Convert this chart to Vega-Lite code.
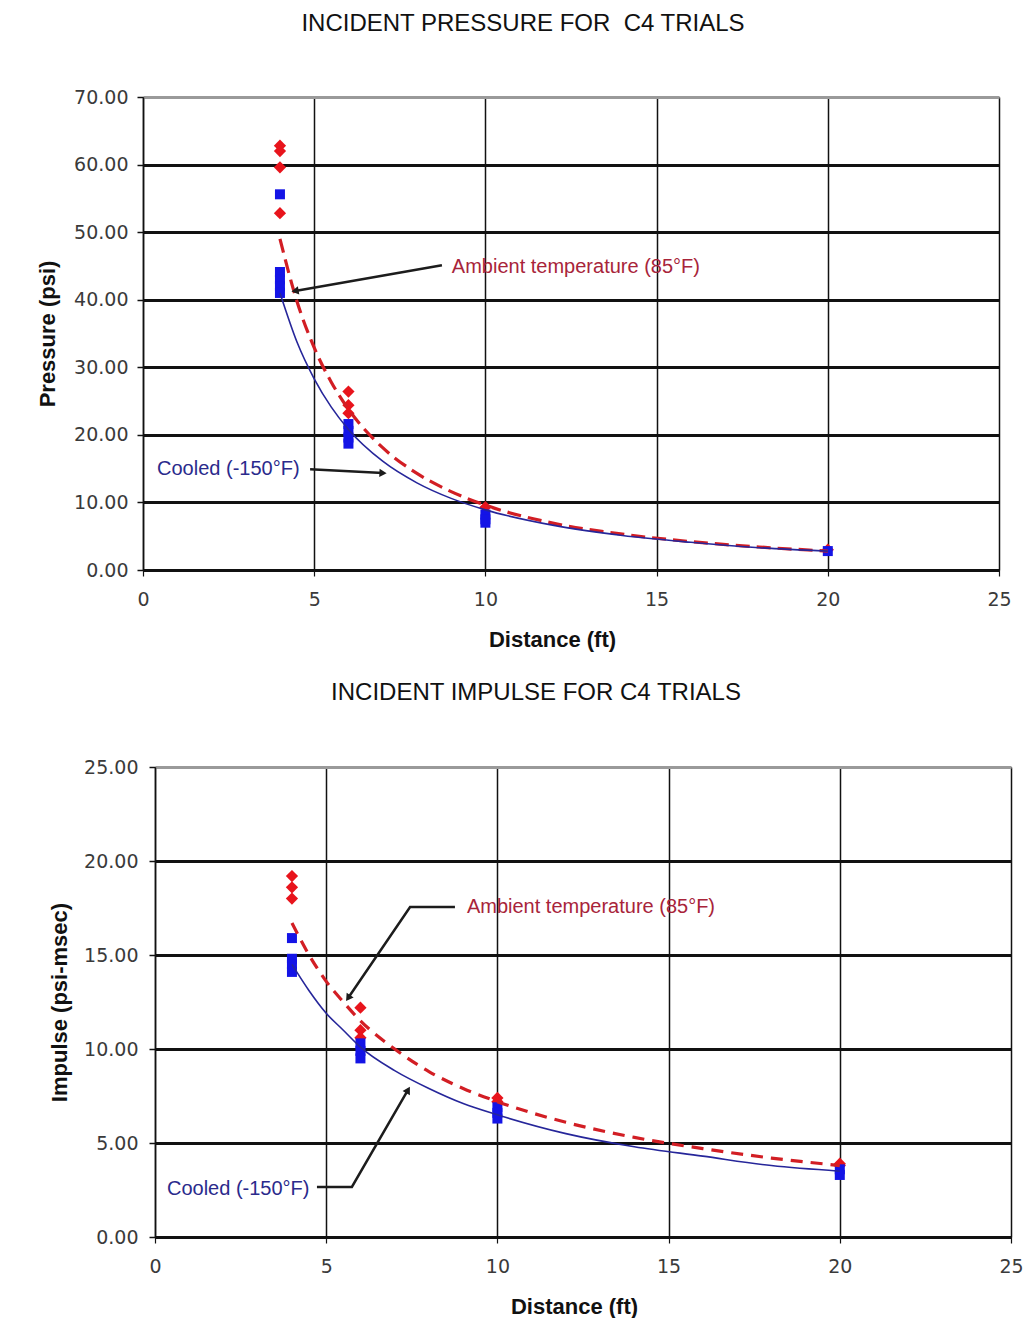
{
  "$schema": "https://vega.github.io/schema/vega-lite/v6.json",
  "background": "white",
  "padding": {"left": 32, "top": 11, "right": 0, "bottom": 0},
  "datasets": {
    "p_pts": [
      {"series": "Ambient", "d": 4, "v": 62.8}, {"series": "Ambient", "d": 4, "v": 62.0}, {"series": "Ambient", "d": 4, "v": 59.6}, {"series": "Ambient", "d": 4, "v": 52.8},
      {"series": "Ambient", "d": 6, "v": 26.4}, {"series": "Ambient", "d": 6, "v": 24.4}, {"series": "Ambient", "d": 6, "v": 23.2},
      {"series": "Ambient", "d": 10, "v": 9.3}, {"series": "Ambient", "d": 20, "v": 3.0},
      {"series": "Cooled", "d": 4, "v": 55.6}, {"series": "Cooled", "d": 4, "v": 44.1}, {"series": "Cooled", "d": 4, "v": 43.0}, {"series": "Cooled", "d": 4, "v": 42.0}, {"series": "Cooled", "d": 4, "v": 41.0},
      {"series": "Cooled", "d": 6, "v": 21.6}, {"series": "Cooled", "d": 6, "v": 20.6}, {"series": "Cooled", "d": 6, "v": 19.6}, {"series": "Cooled", "d": 6, "v": 18.7},
      {"series": "Cooled", "d": 10, "v": 8.2}, {"series": "Cooled", "d": 10, "v": 7.5}, {"series": "Cooled", "d": 10, "v": 7.0},
      {"series": "Cooled", "d": 20, "v": 2.8}
    ],
    "p_fit": [
      {"series": "Ambient", "d": 4, "v": 49.0}, {"series": "Ambient", "d": 4.5, "v": 39.7}, {"series": "Ambient", "d": 5, "v": 32.9}, {"series": "Ambient", "d": 5.5, "v": 27.8},
      {"series": "Ambient", "d": 6, "v": 23.8}, {"series": "Ambient", "d": 7, "v": 18.1}, {"series": "Ambient", "d": 8, "v": 14.3}, {"series": "Ambient", "d": 9, "v": 11.6},
      {"series": "Ambient", "d": 10, "v": 9.6}, {"series": "Ambient", "d": 12, "v": 6.9}, {"series": "Ambient", "d": 14, "v": 5.3}, {"series": "Ambient", "d": 16, "v": 4.2},
      {"series": "Ambient", "d": 18, "v": 3.4}, {"series": "Ambient", "d": 20, "v": 2.8},
      {"series": "Cooled", "d": 4, "v": 41.0}, {"series": "Cooled", "d": 4.5, "v": 33.7}, {"series": "Cooled", "d": 5, "v": 28.3}, {"series": "Cooled", "d": 5.5, "v": 24.1},
      {"series": "Cooled", "d": 6, "v": 20.8}, {"series": "Cooled", "d": 7, "v": 16.1}, {"series": "Cooled", "d": 8, "v": 12.9}, {"series": "Cooled", "d": 9, "v": 10.6},
      {"series": "Cooled", "d": 10, "v": 8.9}, {"series": "Cooled", "d": 12, "v": 6.6}, {"series": "Cooled", "d": 14, "v": 5.1}, {"series": "Cooled", "d": 16, "v": 4.1},
      {"series": "Cooled", "d": 18, "v": 3.3}, {"series": "Cooled", "d": 20, "v": 2.8}
    ],
    "p_notes": [
      {"series": "Ambient", "d": 9.02, "v": 44.8, "label": "Ambient temperature (85°F)"},
      {"series": "Cooled", "d": 0.41, "v": 14.9, "label": "Cooled (-150°F)"}
    ],
    "p_arrows": [
      {"arrow": "ambient", "seq": 0, "d": 8.73, "v": 45.1}, {"arrow": "ambient", "seq": 1, "d": 4.44, "v": 41.3},
      {"arrow": "cooled", "seq": 0, "d": 4.88, "v": 14.9}, {"arrow": "cooled", "seq": 1, "d": 7.01, "v": 14.35}
    ],
    "i_pts": [
      {"series": "Ambient", "d": 4, "v": 19.2}, {"series": "Ambient", "d": 4, "v": 18.6}, {"series": "Ambient", "d": 4, "v": 18.0},
      {"series": "Ambient", "d": 6, "v": 12.2}, {"series": "Ambient", "d": 6, "v": 11.0}, {"series": "Ambient", "d": 6, "v": 10.6},
      {"series": "Ambient", "d": 10, "v": 7.4}, {"series": "Ambient", "d": 10, "v": 7.2},
      {"series": "Ambient", "d": 20, "v": 3.9}, {"series": "Ambient", "d": 20, "v": 3.8},
      {"series": "Cooled", "d": 4, "v": 15.9}, {"series": "Cooled", "d": 4, "v": 14.8}, {"series": "Cooled", "d": 4, "v": 14.5}, {"series": "Cooled", "d": 4, "v": 14.1},
      {"series": "Cooled", "d": 6, "v": 10.3}, {"series": "Cooled", "d": 6, "v": 9.9}, {"series": "Cooled", "d": 6, "v": 9.5},
      {"series": "Cooled", "d": 10, "v": 6.9}, {"series": "Cooled", "d": 10, "v": 6.6}, {"series": "Cooled", "d": 10, "v": 6.3},
      {"series": "Cooled", "d": 20, "v": 3.6}, {"series": "Cooled", "d": 20, "v": 3.3}
    ],
    "i_fit": [
      {"series": "Ambient", "d": 4, "v": 16.7}, {"series": "Ambient", "d": 4.5, "v": 15.0}, {"series": "Ambient", "d": 5, "v": 13.6}, {"series": "Ambient", "d": 5.5, "v": 12.5},
      {"series": "Ambient", "d": 6, "v": 11.5}, {"series": "Ambient", "d": 7, "v": 10.0}, {"series": "Ambient", "d": 8, "v": 8.8}, {"series": "Ambient", "d": 9, "v": 7.9},
      {"series": "Ambient", "d": 10, "v": 7.2}, {"series": "Ambient", "d": 12, "v": 6.1}, {"series": "Ambient", "d": 14, "v": 5.3}, {"series": "Ambient", "d": 16, "v": 4.7},
      {"series": "Ambient", "d": 18, "v": 4.2}, {"series": "Ambient", "d": 20, "v": 3.8},
      {"series": "Cooled", "d": 4, "v": 14.5}, {"series": "Cooled", "d": 4.5, "v": 13.1}, {"series": "Cooled", "d": 5, "v": 11.9}, {"series": "Cooled", "d": 5.5, "v": 11.0},
      {"series": "Cooled", "d": 6, "v": 10.1}, {"series": "Cooled", "d": 7, "v": 8.85}, {"series": "Cooled", "d": 8, "v": 7.9}, {"series": "Cooled", "d": 9, "v": 7.1},
      {"series": "Cooled", "d": 10, "v": 6.5}, {"series": "Cooled", "d": 12, "v": 5.5}, {"series": "Cooled", "d": 14, "v": 4.8}, {"series": "Cooled", "d": 16, "v": 4.3},
      {"series": "Cooled", "d": 18, "v": 3.8}, {"series": "Cooled", "d": 20, "v": 3.5}
    ],
    "i_notes": [
      {"series": "Ambient", "d": 9.11, "v": 17.53, "label": "Ambient temperature (85°F)"},
      {"series": "Cooled", "d": 0.35, "v": 2.55, "label": "Cooled (-150°F)"}
    ],
    "i_arrows": [
      {"arrow": "ambient", "seq": 0, "d": 8.76, "v": 17.55}, {"arrow": "ambient", "seq": 1, "d": 7.45, "v": 17.55}, {"arrow": "ambient", "seq": 2, "d": 5.64, "v": 12.71},
      {"arrow": "cooled", "seq": 0, "d": 4.73, "v": 2.66}, {"arrow": "cooled", "seq": 1, "d": 5.75, "v": 2.66}, {"arrow": "cooled", "seq": 2, "d": 7.39, "v": 7.82}
    ]
  },
  "vconcat": [
    {
      "spacing": 0,
      "hconcat": [
        {
          "width": 4,
          "height": 473,
          "view": {"stroke": null},
          "data": {"values": []},
          "mark": {"type": "text"},
          "encoding": {}
        },
        {
          "width": 856,
          "height": 473,
          "title": {"text": "INCIDENT PRESSURE FOR \u00a0C4 TRIALS", "offset": 52, "dx": -48},
          "layer": [
            {
              "data": {"name": "p_pts"},
              "transform": [{"filter": "datum.series == 'Ambient'"}],
              "mark": {"type": "point", "shape": "diamond", "filled": true, "size": 150, "color": "#e8141c", "opacity": 1},
              "encoding": {
                "x": {"field": "d", "type": "quantitative", "scale": {"domain": [0, 25], "nice": false},
                  "axis": {"title": "Distance (ft)", "values": [0, 5, 10, 15, 20, 25], "format": "d", "labelFlush": false, "labelPadding": 14, "titlePadding": 20, "domainWidth": 3, "gridWidth": 1.5, "tickWidth": 1.2, "titleX": 409}},
                "y": {"field": "v", "type": "quantitative", "scale": {"domain": [0, 70], "nice": false},
                  "axis": {"title": "Pressure (psi)", "values": [0, 10, 20, 30, 40, 50, 60, 70], "format": ".2f", "labelPadding": 9, "titlePadding": 14, "domainWidth": 1.5, "gridWidth": 3, "tickWidth": 1.5,
                    "gridColor": {"condition": {"test": "datum.value >= 70", "value": "#9a9a9a"}, "value": "#111111"}}}
              }
            },
            {
              "data": {"name": "p_pts"},
              "transform": [{"filter": "datum.series == 'Cooled'"}],
              "mark": {"type": "point", "shape": "square", "filled": true, "size": 100, "color": "#1414e6", "opacity": 1},
              "encoding": {"x": {"field": "d", "type": "quantitative"}, "y": {"field": "v", "type": "quantitative"}}
            },
            {
              "data": {"name": "p_fit"},
              "transform": [{"filter": "datum.series == 'Ambient'"}],
              "mark": {"type": "line", "interpolate": "monotone", "color": "#d21e24", "strokeWidth": 3.2, "strokeDash": [14, 7]},
              "encoding": {"x": {"field": "d", "type": "quantitative"}, "y": {"field": "v", "type": "quantitative"}}
            },
            {
              "data": {"name": "p_fit"},
              "transform": [{"filter": "datum.series == 'Cooled'"}],
              "mark": {"type": "line", "interpolate": "monotone", "color": "#26269a", "strokeWidth": 1.6},
              "encoding": {"x": {"field": "d", "type": "quantitative"}, "y": {"field": "v", "type": "quantitative"}}
            },
            {
              "data": {"name": "p_arrows"},
              "mark": {"type": "line", "color": "#1c1c1c", "strokeWidth": 2.5},
              "encoding": {"x": {"field": "d", "type": "quantitative"}, "y": {"field": "v", "type": "quantitative"}, "detail": {"field": "arrow"}, "order": {"field": "seq"}}
            },
            {
              "data": {"name": "p_arrows"},
              "transform": [{"filter": "datum.arrow == 'ambient' && datum.seq == 1"}],
              "mark": {"type": "point", "shape": "triangle-up", "filled": true, "size": 70, "color": "#1c1c1c", "opacity": 1, "angle": 260},
              "encoding": {"x": {"field": "d", "type": "quantitative"}, "y": {"field": "v", "type": "quantitative"}}
            },
            {
              "data": {"name": "p_arrows"},
              "transform": [{"filter": "datum.arrow == 'cooled' && datum.seq == 1"}],
              "mark": {"type": "point", "shape": "triangle-up", "filled": true, "size": 70, "color": "#1c1c1c", "opacity": 1, "angle": 93},
              "encoding": {"x": {"field": "d", "type": "quantitative"}, "y": {"field": "v", "type": "quantitative"}}
            },
            {
              "data": {"name": "p_notes"},
              "mark": {"type": "text", "align": "left", "baseline": "middle", "font": "Liberation Sans", "fontSize": 20},
              "encoding": {
                "x": {"field": "d", "type": "quantitative"}, "y": {"field": "v", "type": "quantitative"},
                "text": {"field": "label"},
                "color": {"field": "series", "type": "nominal", "scale": {"domain": ["Ambient", "Cooled"], "range": ["#a8243a", "#2a2a8c"]}, "legend": null}
              }
            }
          ]
        }
      ]
    },
    {
      "spacing": 0,
      "hconcat": [
        {
          "width": 16,
          "height": 470,
          "view": {"stroke": null},
          "data": {"values": []},
          "mark": {"type": "text"},
          "encoding": {}
        },
        {
          "width": 856,
          "height": 470,
          "title": {"text": "INCIDENT IMPULSE FOR C4 TRIALS", "offset": 53, "dx": -47},
          "layer": [
            {
              "data": {"name": "i_pts"},
              "transform": [{"filter": "datum.series == 'Ambient'"}],
              "mark": {"type": "point", "shape": "diamond", "filled": true, "size": 150, "color": "#e8141c", "opacity": 1},
              "encoding": {
                "x": {"field": "d", "type": "quantitative", "scale": {"domain": [0, 25], "nice": false},
                  "axis": {"title": "Distance (ft)", "values": [0, 5, 10, 15, 20, 25], "format": "d", "labelFlush": false, "labelPadding": 14, "titlePadding": 20, "domainWidth": 3, "gridWidth": 1.5, "tickWidth": 1.2, "titleX": 419}},
                "y": {"field": "v", "type": "quantitative", "scale": {"domain": [0, 25], "nice": false},
                  "axis": {"title": "Impulse (psi-msec)", "values": [0, 5, 10, 15, 20, 25], "format": ".2f", "labelPadding": 11, "titlePadding": 12, "domainWidth": 1.5, "gridWidth": 3, "tickWidth": 1.5,
                    "gridColor": {"condition": {"test": "datum.value >= 25", "value": "#9a9a9a"}, "value": "#111111"}}}
              }
            },
            {
              "data": {"name": "i_pts"},
              "transform": [{"filter": "datum.series == 'Cooled'"}],
              "mark": {"type": "point", "shape": "square", "filled": true, "size": 100, "color": "#1414e6", "opacity": 1},
              "encoding": {"x": {"field": "d", "type": "quantitative"}, "y": {"field": "v", "type": "quantitative"}}
            },
            {
              "data": {"name": "i_fit"},
              "transform": [{"filter": "datum.series == 'Ambient'"}],
              "mark": {"type": "line", "interpolate": "monotone", "color": "#d21e24", "strokeWidth": 3.2, "strokeDash": [12, 8]},
              "encoding": {"x": {"field": "d", "type": "quantitative"}, "y": {"field": "v", "type": "quantitative"}}
            },
            {
              "data": {"name": "i_fit"},
              "transform": [{"filter": "datum.series == 'Cooled'"}],
              "mark": {"type": "line", "interpolate": "monotone", "color": "#26269a", "strokeWidth": 1.6},
              "encoding": {"x": {"field": "d", "type": "quantitative"}, "y": {"field": "v", "type": "quantitative"}}
            },
            {
              "data": {"name": "i_arrows"},
              "mark": {"type": "line", "color": "#1c1c1c", "strokeWidth": 2.5},
              "encoding": {"x": {"field": "d", "type": "quantitative"}, "y": {"field": "v", "type": "quantitative"}, "detail": {"field": "arrow"}, "order": {"field": "seq"}}
            },
            {
              "data": {"name": "i_arrows"},
              "transform": [{"filter": "datum.arrow == 'ambient' && datum.seq == 2"}],
              "mark": {"type": "point", "shape": "triangle-up", "filled": true, "size": 70, "color": "#1c1c1c", "opacity": 1, "angle": 214},
              "encoding": {"x": {"field": "d", "type": "quantitative"}, "y": {"field": "v", "type": "quantitative"}}
            },
            {
              "data": {"name": "i_arrows"},
              "transform": [{"filter": "datum.arrow == 'cooled' && datum.seq == 2"}],
              "mark": {"type": "point", "shape": "triangle-up", "filled": true, "size": 70, "color": "#1c1c1c", "opacity": 1, "angle": 30},
              "encoding": {"x": {"field": "d", "type": "quantitative"}, "y": {"field": "v", "type": "quantitative"}}
            },
            {
              "data": {"name": "i_notes"},
              "mark": {"type": "text", "align": "left", "baseline": "middle", "font": "Liberation Sans", "fontSize": 20},
              "encoding": {
                "x": {"field": "d", "type": "quantitative"}, "y": {"field": "v", "type": "quantitative"},
                "text": {"field": "label"},
                "color": {"field": "series", "type": "nominal", "scale": {"domain": ["Ambient", "Cooled"], "range": ["#a8243a", "#2a2a8c"]}, "legend": null}
              }
            }
          ]
        }
      ]
    }
  ],
  "spacing": 29,
  "config": {
    "view": {"stroke": "#8c8c8c", "strokeWidth": 1},
    "axis": {
      "labelFont": "DejaVu Sans", "labelFontSize": 19, "labelColor": "#3a3a3a",
      "titleFont": "Liberation Sans", "titleFontSize": 22, "titleFontWeight": "bold", "titleColor": "#111111",
      "domainColor": "#111111", "tickColor": "#111111", "tickSize": 6, "gridColor": "#111111", "gridOpacity": 1, "grid": true
    },
    "title": {"font": "Liberation Sans", "fontSize": 24, "fontWeight": "normal", "color": "#111111", "anchor": "middle"}
  }
}
